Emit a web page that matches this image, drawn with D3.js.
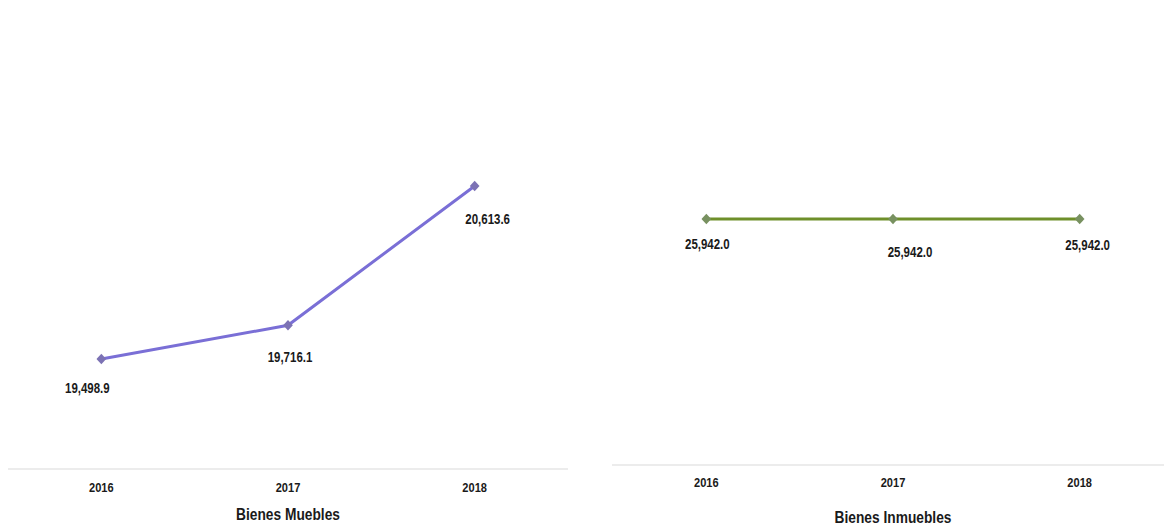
<!DOCTYPE html>
<html><head><meta charset="utf-8">
<script src="https://cdn.jsdelivr.net/npm/d3@7"></script>
<style>
html,body{margin:0;padding:0;background:#fff;}
svg text{font-family:"Liberation Sans",Arial,sans-serif;fill:#1a1a1a;}
</style></head>
<body><svg id="c" width="1164" height="527"></svg>
<script>
const years = ["2016", "2017", "2018"];
const mueblesValues = [19498.9, 19716.1, 20613.6];
const inmueblesValues = [25942.0, 25942.0, 25942.0];
const panelTitles = ["Bienes Muebles", "Bienes Inmuebles"];

const svg = d3.select("#c");
const fmt = d3.format(",.1f");
const diamond = d3.symbol().type(d3.symbolDiamond2).size(60);

function ctext(g, x, y, str, size, sx, weight) {
  return g.append("text")
    .attr("transform", `translate(${x},${y}) scale(${sx},1)`)
    .attr("text-anchor", "middle").attr("font-size", size)
    .attr("font-weight", weight).text(str);
}

function panel(cfg) {
  const x = d3.scaleBand().domain(years).range(cfg.xRange).padding(0);
  const y = d3.scaleLinear().domain(cfg.yDomain).range(cfg.yRange);
  const g = svg.append("g");
  g.append("line").attr("x1", cfg.axisX[0]).attr("x2", cfg.axisX[1])
    .attr("y1", cfg.yRange[0]).attr("y2", cfg.yRange[0])
    .attr("stroke", "#d9d9d9").attr("stroke-width", 1.2);
  const ax = d3.axisBottom(x).tickSize(0).tickFormat(() => "");
  const axg = g.append("g").attr("transform", `translate(0,${cfg.yRange[0]})`).call(ax);
  axg.select(".domain").remove();
  axg.selectAll(".tick").each(function(d) {
    ctext(d3.select(this), 0, cfg.tickDy, d, 13.5, 0.82, "bold");
  });
  ctext(g, (cfg.xRange[0] + cfg.xRange[1]) / 2, cfg.titleY, cfg.title, 16, 0.86, "bold");
  const cx = d => x(d) + x.bandwidth() / 2;
  const data = years.map((yr, i) => ({yr, v: cfg.values[i], i}));
  g.append("path").datum(data)
    .attr("d", d3.line().x(d => cx(d.yr)).y(d => y(d.v)))
    .attr("fill", "none").attr("stroke", cfg.lineColor).attr("stroke-width", 3);
  g.selectAll(".m").data(data).join("path")
    .attr("transform", d => `translate(${cx(d.yr)},${y(d.v)}) scale(1,1.1)`)
    .attr("d", diamond).attr("fill", cfg.markerColor);
  data.forEach(d => {
    ctext(g, cx(d.yr) + cfg.labelDx[d.i], y(d.v) + cfg.labelDy[d.i], fmt(d.v), 14, 0.82, "bold");
  });
}

panel({
  values: mueblesValues, title: panelTitles[0],
  xRange: [8, 568], axisX: [8, 568],
  yDomain: [18790, 21500], yRange: [469, 469 - 2710 * 0.1552],
  titleY: 520, tickDy: 23, lineColor: "#7a6fd6", markerColor: "#7c72b4",
  labelDx: [-14, 2, 13], labelDy: [34, 37, 38]
});
panel({
  values: inmueblesValues, title: panelTitles[1],
  xRange: [613, 1173], axisX: [612, 1164],
  yDomain: [0, 30000], yRange: [465, 465 - 246 * 30000 / 25942],
  titleY: 523, tickDy: 22, lineColor: "#6e8f2a", markerColor: "#789160",
  labelDx: [1, 17, 8], labelDy: [30, 38, 31]
});
</script></body></html>
